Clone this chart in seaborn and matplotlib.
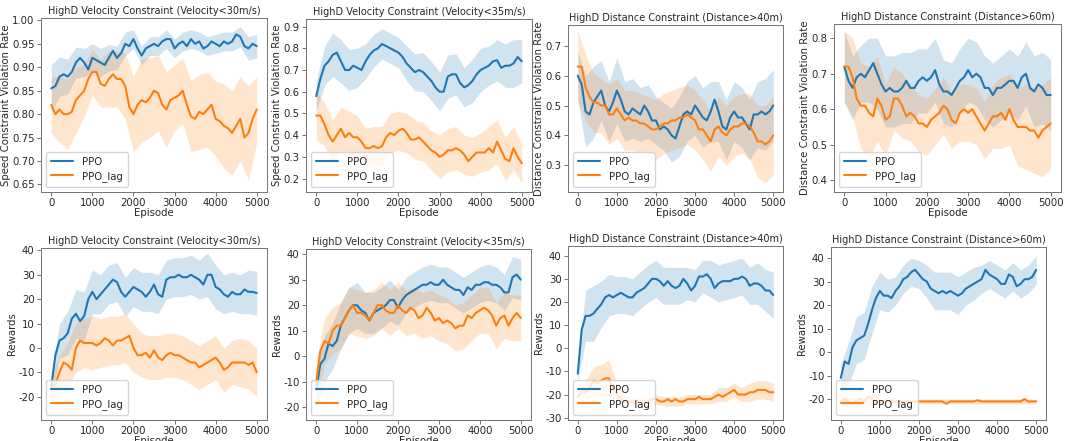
import numpy as np
import pandas as pd
import matplotlib
matplotlib.use("Agg")
import matplotlib.pyplot as plt
import seaborn as sns

# Episodes at which the smoothed curves are sampled, and where the spread is sampled
episodes = list(range(0, 5001, 100))
band_episodes = list(range(0, 5001, 200))

# ---- Speed constraint violation rate, velocity < 30 m/s ----
v30_rate_ppo = [0.855, 0.86, 0.88, 0.885, 0.88, 0.89, 0.91, 0.92, 0.91, 0.895,
                0.92, 0.915, 0.91, 0.905, 0.92, 0.935, 0.92, 0.93, 0.95, 0.945,
                0.96, 0.94, 0.925, 0.94, 0.945, 0.95, 0.945, 0.955, 0.96, 0.96,
                0.94, 0.95, 0.955, 0.945, 0.96, 0.95, 0.955, 0.94, 0.945, 0.955,
                0.95, 0.945, 0.955, 0.95, 0.955, 0.97, 0.965, 0.945, 0.94, 0.95,
                0.945]
v30_rate_ppo_band = [0.05, 0.042, 0.037, 0.033, 0.03, 0.03, 0.03, 0.028, 0.025, 0.025,
                     0.02, 0.02, 0.02, 0.02, 0.02, 0.02, 0.02, 0.02, 0.02, 0.02,
                     0.02, 0.02, 0.02, 0.022, 0.025, 0.025]
v30_rate_lag = [0.82, 0.80, 0.81, 0.80, 0.80, 0.805, 0.83, 0.84, 0.85, 0.875,
                0.89, 0.89, 0.865, 0.86, 0.875, 0.885, 0.875, 0.875, 0.86, 0.815,
                0.80, 0.82, 0.83, 0.825, 0.835, 0.85, 0.845, 0.82, 0.81, 0.83,
                0.835, 0.84, 0.85, 0.82, 0.795, 0.79, 0.805, 0.80, 0.81, 0.82,
                0.79, 0.785, 0.775, 0.77, 0.76, 0.775, 0.79, 0.75, 0.76, 0.79,
                0.81]
v30_rate_lag_band = [0.06, 0.07, 0.075, 0.07, 0.055, 0.05, 0.05, 0.06, 0.06, 0.07,
                     0.08, 0.09, 0.085, 0.08, 0.08, 0.07, 0.07, 0.075, 0.08, 0.08,
                     0.08, 0.09, 0.09, 0.09, 0.10, 0.07]

# ---- Speed constraint violation rate, velocity < 35 m/s ----
v35_rate_ppo = [0.58, 0.66, 0.72, 0.74, 0.77, 0.78, 0.74, 0.70, 0.70, 0.72,
                0.71, 0.70, 0.74, 0.77, 0.79, 0.80, 0.82, 0.81, 0.80, 0.79,
                0.78, 0.76, 0.73, 0.71, 0.69, 0.70, 0.69, 0.67, 0.65, 0.62,
                0.60, 0.60, 0.67, 0.68, 0.68, 0.64, 0.62, 0.63, 0.65, 0.68,
                0.70, 0.71, 0.72, 0.74, 0.745, 0.71, 0.72, 0.72, 0.73, 0.76,
                0.74]
v35_rate_ppo_band = [0.07, 0.09, 0.10, 0.10, 0.095, 0.09, 0.08, 0.075, 0.07, 0.07,
                     0.07, 0.08, 0.085, 0.09, 0.09, 0.09, 0.10, 0.095, 0.09, 0.10,
                     0.10, 0.09, 0.095, 0.10, 0.11, 0.10]
v35_rate_lag = [0.49, 0.49, 0.45, 0.40, 0.37, 0.40, 0.43, 0.39, 0.41, 0.39,
                0.39, 0.37, 0.34, 0.34, 0.35, 0.34, 0.35, 0.39, 0.41, 0.40,
                0.42, 0.43, 0.41, 0.38, 0.38, 0.39, 0.37, 0.35, 0.33, 0.32,
                0.30, 0.31, 0.33, 0.33, 0.34, 0.33, 0.31, 0.28, 0.30, 0.32,
                0.32, 0.32, 0.34, 0.32, 0.37, 0.33, 0.29, 0.28, 0.34, 0.30,
                0.27]
v35_rate_lag_band = [0.11, 0.10, 0.10, 0.10, 0.10, 0.10, 0.09, 0.09, 0.09, 0.09,
                     0.09, 0.09, 0.09, 0.09, 0.09, 0.10, 0.10, 0.10, 0.09, 0.09,
                     0.09, 0.10, 0.10, 0.10, 0.10, 0.09]

# ---- Distance constraint violation rate, distance > 40 m ----
d40_rate_ppo = [0.60, 0.57, 0.48, 0.47, 0.51, 0.53, 0.55, 0.50, 0.48, 0.51,
                0.55, 0.52, 0.48, 0.47, 0.49, 0.48, 0.47, 0.50, 0.48, 0.45,
                0.45, 0.42, 0.43, 0.42, 0.40, 0.39, 0.43, 0.47, 0.48, 0.47,
                0.50, 0.48, 0.46, 0.45, 0.48, 0.52, 0.48, 0.43, 0.42, 0.46,
                0.48, 0.46, 0.46, 0.44, 0.42, 0.47, 0.47, 0.48, 0.47, 0.48,
                0.50]
d40_rate_ppo_band = [0.08, 0.12, 0.12, 0.10, 0.10, 0.11, 0.10, 0.10, 0.09, 0.09,
                     0.08, 0.08, 0.09, 0.10, 0.10, 0.10, 0.10, 0.10, 0.10, 0.10,
                     0.10, 0.10, 0.10, 0.11, 0.12, 0.12]
d40_rate_lag = [0.63, 0.63, 0.56, 0.53, 0.51, 0.51, 0.50, 0.50, 0.47, 0.47,
                0.49, 0.47, 0.45, 0.46, 0.45, 0.45, 0.44, 0.44, 0.43, 0.42,
                0.42, 0.43, 0.44, 0.44, 0.45, 0.45, 0.46, 0.46, 0.47, 0.46,
                0.45, 0.42, 0.42, 0.40, 0.38, 0.42, 0.43, 0.41, 0.40, 0.42,
                0.43, 0.43, 0.44, 0.44, 0.43, 0.41, 0.38, 0.38, 0.37, 0.38,
                0.40]
d40_rate_lag_band = [0.12, 0.11, 0.10, 0.09, 0.10, 0.10, 0.10, 0.10, 0.10, 0.10,
                     0.10, 0.10, 0.10, 0.10, 0.10, 0.10, 0.10, 0.10, 0.10, 0.10,
                     0.10, 0.10, 0.11, 0.12, 0.13, 0.13]

# ---- Distance constraint violation rate, distance > 60 m ----
d60_rate_ppo = [0.72, 0.68, 0.66, 0.69, 0.70, 0.69, 0.71, 0.73, 0.70, 0.67,
                0.65, 0.66, 0.65, 0.65, 0.66, 0.68, 0.66, 0.66, 0.68, 0.69,
                0.68, 0.69, 0.71, 0.67, 0.65, 0.65, 0.64, 0.66, 0.68, 0.69,
                0.71, 0.69, 0.70, 0.69, 0.66, 0.66, 0.64, 0.66, 0.66, 0.67,
                0.68, 0.68, 0.66, 0.69, 0.70, 0.66, 0.65, 0.67, 0.66, 0.64,
                0.64]
d60_rate_ppo_band = [0.10, 0.09, 0.08, 0.09, 0.10, 0.10, 0.10, 0.10, 0.10, 0.09,
                     0.09, 0.09, 0.09, 0.09, 0.09, 0.09, 0.09, 0.09, 0.09, 0.09,
                     0.09, 0.09, 0.09, 0.10, 0.10, 0.10]
d60_rate_lag = [0.72, 0.72, 0.69, 0.63, 0.61, 0.61, 0.59, 0.58, 0.63, 0.61,
                0.57, 0.58, 0.63, 0.63, 0.61, 0.58, 0.59, 0.58, 0.56, 0.56,
                0.55, 0.57, 0.58, 0.59, 0.61, 0.60, 0.57, 0.56, 0.59, 0.60,
                0.59, 0.60, 0.58, 0.56, 0.54, 0.56, 0.58, 0.58, 0.59, 0.57,
                0.60, 0.57, 0.55, 0.55, 0.55, 0.54, 0.54, 0.52, 0.54, 0.55,
                0.56]
d60_rate_lag_band = [0.10, 0.11, 0.12, 0.13, 0.12, 0.10, 0.09, 0.09, 0.08, 0.08,
                     0.08, 0.08, 0.08, 0.08, 0.08, 0.08, 0.08, 0.08, 0.09, 0.10,
                     0.10, 0.11, 0.12, 0.12, 0.13, 0.13]

# ---- Rewards, velocity < 30 m/s ----
v30_rew_ppo = [-16, -3, 3, 4, 6, 12, 14, 11, 13, 20,
               23, 20, 22, 24, 26, 28, 27, 23, 21, 23,
               25, 24, 23, 21, 23, 26, 22, 21, 28, 29,
               29, 30, 29, 29, 30, 29, 28, 26, 30, 30,
               25, 24, 22, 21, 23, 22, 22, 24, 23, 23,
               22.5]
v30_rew_ppo_band = [5, 7, 9, 10, 10, 9, 8, 8, 8, 8,
                    8, 8, 8, 8, 8, 8, 8, 8, 8, 9,
                    9, 8, 8, 8, 9, 9]
v30_rew_lag = [-17, -15, -10, -6, -7, -9, 0, 3, 2, 2,
               2, 1, 2, 4, 3, 1, 3, 3, 4, 5,
               0, -3, -3, -2, -4, -1, -4, -5, -3, -2,
               -3, -3, -4, -5, -6, -6, -8, -7, -6, -5,
               -4, -6, -9, -8, -6, -6, -6, -6, -7, -6,
               -10]
v30_rew_lag_band = [6, 7, 9, 10, 10, 11, 10, 10, 10, 10,
                    10, 9, 9, 9, 9, 9, 9, 9, 9, 9,
                    9, 9, 9, 10, 10, 10]

# ---- Rewards, velocity < 35 m/s ----
v35_rew_ppo = [-13, -3, -1, 5, 4, 6, 12, 15, 18, 20,
               20, 18, 17, 14, 17, 18, 19, 20, 22, 22,
               19, 22, 24, 25, 26, 27, 28, 28, 29, 28,
               28, 30, 28, 27, 26, 26, 24, 27, 26, 28,
               28, 29, 29, 28, 28, 27, 25, 25, 31, 32,
               30]
v35_rew_ppo_band = [8, 9, 9, 9, 9, 9, 8, 8, 8, 8,
                    7, 7, 7, 7, 7, 7, 7, 7, 7, 7,
                    7, 7, 7, 7, 8, 8]
v35_rew_lag = [-10, 2, 6, 5, 10, 12, 12, 15, 18, 20,
               17, 17, 16, 14, 17, 20, 20, 18, 17, 17,
               20, 18, 17, 19, 18, 15, 16, 19, 17, 14,
               15, 13, 14, 13, 11, 12, 12, 16, 15, 17,
               18, 19, 18, 16, 12, 15, 16, 12, 15, 17,
               15]
v35_rew_lag_band = [8, 9, 9, 9, 9, 9, 9, 9, 9, 9,
                    9, 9, 9, 9, 9, 9, 9, 9, 9, 9,
                    9, 9, 9, 9, 9, 9]

# ---- Rewards, distance > 40 m ----
d40_rew_ppo = [-11, 8, 14, 14, 15, 17, 19, 22, 23, 22,
               23, 24, 23, 22, 22, 24, 25, 26, 28, 30,
               30, 29, 27, 29, 27, 26, 27, 30, 28, 25,
               27, 31, 31, 32, 30, 26, 28, 29, 29, 29,
               30, 30, 31, 30, 27, 28, 28, 27, 25, 25,
               23]
d40_rew_ppo_band = [3, 11, 12, 10, 9, 8, 8, 8, 8, 8,
                    8, 8, 8, 8, 7, 7, 7, 8, 8, 8,
                    8, 8, 8, 9, 9, 10]
d40_rew_lag = [-21, -19, -19, -17, -14, -15, -14, -13, -13, -17,
               -20, -22, -23, -23, -23, -23, -24, -23, -23, -22,
               -22, -23, -23, -22, -23, -22, -23, -23, -22, -22,
               -22, -21, -22, -22, -22, -21, -20, -21, -20, -19,
               -18, -20, -20, -20, -19, -19, -18, -18, -18, -19,
               -19]
d40_rew_lag_band = [4, 5, 6, 7, 8, 4, 2.5, 2, 2, 2,
                    2, 2, 2, 2, 2, 2, 2, 2, 3, 3,
                    3, 3, 4, 4, 4, 4]

# ---- Rewards, distance > 60 m ----
d60_rew_ppo = [-11, -4, -5, 2, 5, 6, 7, 12, 18, 23,
               26, 24, 24, 23, 26, 28, 31, 32, 34, 35,
               33, 31, 30, 27, 26, 25, 26, 25, 26, 25,
               24, 25, 27, 28, 29, 30, 31, 35, 33, 32,
               31, 29, 29, 33, 32, 28, 29, 31, 31, 32,
               35]
d60_rew_ppo_band = [6, 9, 10, 10, 10, 8, 7, 6, 6, 6,
                    6, 7, 8, 8, 8, 8, 7, 7, 6, 6,
                    6, 6, 6, 6, 6, 6]
d60_rew_lag = [-21, -20, -21, -22, -21, -20, -21, -19, -20, -21,
               -21, -21, -21, -21, -21, -21, -21, -21, -21, -21,
               -21, -21, -21, -21, -21, -21, -21, -22, -21, -21,
               -21, -21, -21, -21, -21, -20.5, -21, -21, -21, -21,
               -21, -21, -21, -21, -21, -21, -21, -20, -21, -21,
               -21]
d60_rew_lag_band = [2, 2, 2, 1.5, 2, 1.5, 1, 1, 1, 1,
                    1, 1, 1, 1, 1, 1, 1, 1, 1, 1,
                    1, 1, 1, 1, 1, 1]

titles = ["HighD Velocity Constraint (Velocity<30m/s)",
          "HighD Velocity Constraint (Velocity<35m/s)",
          "HighD Distance Constraint (Distance>40m)",
          "HighD Distance Constraint (Distance>60m)"]
series_names = ["PPO", "PPO_lag"]

panels = [
    (titles[0], "Speed Constraint Violation Rate", v30_rate_ppo, v30_rate_ppo_band, v30_rate_lag, v30_rate_lag_band),
    (titles[1], "Speed Constraint Violation Rate", v35_rate_ppo, v35_rate_ppo_band, v35_rate_lag, v35_rate_lag_band),
    (titles[2], "Distance Constraint Violation Rate", d40_rate_ppo, d40_rate_ppo_band, d40_rate_lag, d40_rate_lag_band),
    (titles[3], "Distance Constraint Violation Rate", d60_rate_ppo, d60_rate_ppo_band, d60_rate_lag, d60_rate_lag_band),
    (titles[0], "Rewards", v30_rew_ppo, v30_rew_ppo_band, v30_rew_lag, v30_rew_lag_band),
    (titles[1], "Rewards", v35_rew_ppo, v35_rew_ppo_band, v35_rew_lag, v35_rew_lag_band),
    (titles[2], "Rewards", d40_rew_ppo, d40_rew_ppo_band, d40_rew_lag, d40_rew_lag_band),
    (titles[3], "Rewards", d60_rew_ppo, d60_rew_ppo_band, d60_rew_lag, d60_rew_lag_band),
]

# Layout (pixel boxes: left, top, right, bottom) and axis ranges
W, H = 1065, 441
boxes = [(41, 18, 267, 192), (306, 19, 532, 192), (568, 25, 783, 192), (834, 24, 1061, 192),
         (41, 248, 267, 420), (306, 249, 531, 420), (568, 246, 783, 420), (831, 247, 1046, 420)]
ylims = [(0.634, 1.005), (0.138, 0.935), (0.211, 0.769), (0.367, 0.84),
         (-29.6, 41), (-24.9, 42), (-31, 44.2), (-28.9, 44.7)]
yticks = [np.arange(0.65, 1.001, 0.05), np.arange(0.2, 0.91, 0.1), np.arange(0.3, 0.71, 0.1),
          np.arange(0.4, 0.81, 0.1), range(-20, 41, 10), range(-20, 41, 10),
          range(-30, 41, 10), range(-20, 41, 10)]
yfmt = ["%.2f", "%.1f", "%.1f", "%.1f", "%d", "%d", "%d", "%d"]

sns.set_theme(style="ticks")
plt.rcParams["font.family"] = ["DejaVu Sans"]
fs = 7
tick_fs = 7.3
colors = {"PPO": "#1f77b4", "PPO_lag": "#ff7f0e"}

fig = plt.figure(figsize=(W / 100, H / 100), dpi=100)

for i, (title, ylabel, ppo, ppo_band, lag, lag_band) in enumerate(panels):
    l, t, r, b = boxes[i]
    ax = fig.add_axes([l / W, 1 - b / H, (r - l) / W, (b - t) / H])

    df = pd.DataFrame({
        "Episode": episodes * 2,
        "value": ppo + lag,
        "series": ["PPO"] * len(episodes) + ["PPO_lag"] * len(episodes),
    })

    # Shaded spread around each curve
    for name, mean, band in (("PPO", ppo, ppo_band), ("PPO_lag", lag, lag_band)):
        centre = pd.Series(mean, index=episodes).loc[band_episodes].to_numpy(dtype=float)
        band = np.asarray(band, dtype=float)
        ax.fill_between(band_episodes, centre - band, centre + band,
                        color=colors[name], alpha=0.2, linewidth=0, zorder=1)

    sns.lineplot(data=df, x="Episode", y="value", hue="series", hue_order=series_names,
                 palette=colors, linewidth=1.5, ax=ax, zorder=2)

    ax.set_xlim(-250, 5250)
    ax.set_ylim(*ylims[i])
    ax.set_xticks(range(0, 5001, 1000))
    ax.set_yticks(list(yticks[i]))
    ax.set_yticklabels([yfmt[i] % v for v in yticks[i]])
    ax.tick_params(labelsize=tick_fs, length=3, width=0.7, pad=1.5, colors="0.15")
    ax.tick_params(color="0.45")
    for s in ax.spines.values():
        s.set_linewidth(0.7)
        s.set_color("0.45")
    ax.set_title(title, fontsize=fs, pad=3)
    ax.set_xlabel("Episode", fontsize=tick_fs, labelpad=0)
    ax.set_ylabel(ylabel, fontsize=tick_fs, labelpad=1)
    ax.legend(loc="lower left", fontsize=tick_fs, frameon=True, handlelength=2.2,
              borderpad=0.5, labelspacing=0.4, framealpha=0.8)

fig.savefig("out.png", dpi=100)
